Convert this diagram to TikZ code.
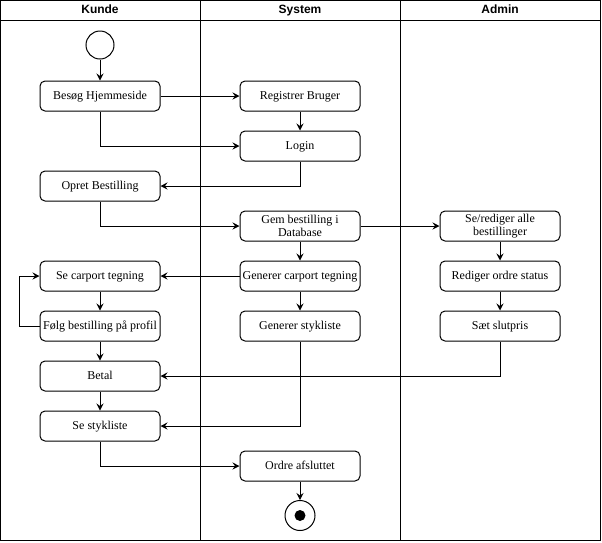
\documentclass[tikz,border=0pt]{standalone}
\usepackage{fontspec}
\setmainfont{Liberation Serif}
\newfontfamily\headfont{Liberation Sans}
\usetikzlibrary{arrows.meta}
\begin{document}
\begin{tikzpicture}[x=1pt,y=-1pt,
  actbase/.style={draw, rounded corners=5pt, minimum width=120pt, minimum height=30pt,
    align=center, inner sep=1pt, line width=1pt,
    font=\fontsize{12}{13}\selectfont},
  act/.style={actbase, text height=9pt, text depth=3pt},
  acttwo/.style={actbase},
  flow/.style={-{Stealth[length=7pt,width=7pt,inset=2.5pt]}, line width=1pt},
  lanehead/.style={font=\headfont\bfseries\fontsize{12}{14}\selectfont,
    text height=9pt, text depth=3pt, inner sep=0pt},
  frame/.style={line width=1pt}]
\useasboundingbox (0,0) rectangle (602,542);

% swimlanes
\draw[frame] (0.5,0.5) rectangle (600.5,540.5);
\draw[frame] (0.5,20) -- (600.5,20);
\draw[frame] (200,0.5) -- (200,540.5);
\draw[frame] (400,0.5) -- (400,540.5);
\node[lanehead] (hk) at (100,10) {Kunde};
\node[lanehead] (hs) at (300,10) {System};
\node[lanehead] (ha) at (500,10) {Admin};

% start and end
\node[draw, circle, line width=1pt, minimum size=28pt, inner sep=0pt] (start) at (100,45) {};
\node[draw, circle, line width=1pt, minimum size=30pt, inner sep=0pt] (end) at (300,515.5) {};
\node[fill, circle, minimum size=11pt, inner sep=0pt] (enddot) at (300,515.5) {};

% Kunde
\node[act] (besog) at (100,96) {Besøg Hjemmeside};
\node[act] (opret) at (100,186) {Opret Bestilling};
\node[act] (secarport) at (100,276) {Se carport tegning};
\node[act] (folg) at (100,326) {Følg bestilling på profil};
\node[act] (betal) at (100,376) {Betal};
\node[act] (sestyk) at (100,426) {Se stykliste};

% System
\node[act] (reg) at (300,96) {Registrer Bruger};
\node[act] (login) at (300,146) {Login};
\node[acttwo] (gem) at (300,226) {Gem bestilling i\\Database};
\node[act] (gencar) at (300,276) {Generer carport tegning};
\node[act] (genstyk) at (300,326) {Generer stykliste};
\node[act] (ordre) at (300,466) {Ordre afsluttet};

% Admin
\node[acttwo] (serediger) at (500,226) {Se/rediger alle\\bestillinger};
\node[act] (status) at (500,276) {Rediger ordre status};
\node[act] (slutpris) at (500,326) {Sæt slutpris};

% flows
\draw[flow] (start) -- (besog);
\draw[flow] (besog) -- (reg);
\draw[flow] (besog.south) |- (login.west);
\draw[flow] (reg) -- (login);
\draw[flow] (login.south) |- (opret.east);
\draw[flow] (opret.south) |- (gem.west);
\draw[flow] (gem) -- (serediger);
\draw[flow] (gem) -- (gencar);
\draw[flow] (gencar) -- (secarport);
\draw[flow] (gencar) -- (genstyk);
\draw[flow] (secarport) -- (folg);
\draw[flow] (folg.west) -- ++(-20,0) |- (secarport.west);
\draw[flow] (folg) -- (betal);
\draw[flow] (serediger) -- (status);
\draw[flow] (status) -- (slutpris);
\draw[flow] (slutpris.south) |- (betal.east);
\draw[flow] (betal) -- (sestyk);
\draw[flow] (genstyk.south) |- (sestyk.east);
\draw[flow] (sestyk.south) |- (ordre.west);
\draw[flow] (ordre) -- (end);
\end{tikzpicture}
\end{document}
